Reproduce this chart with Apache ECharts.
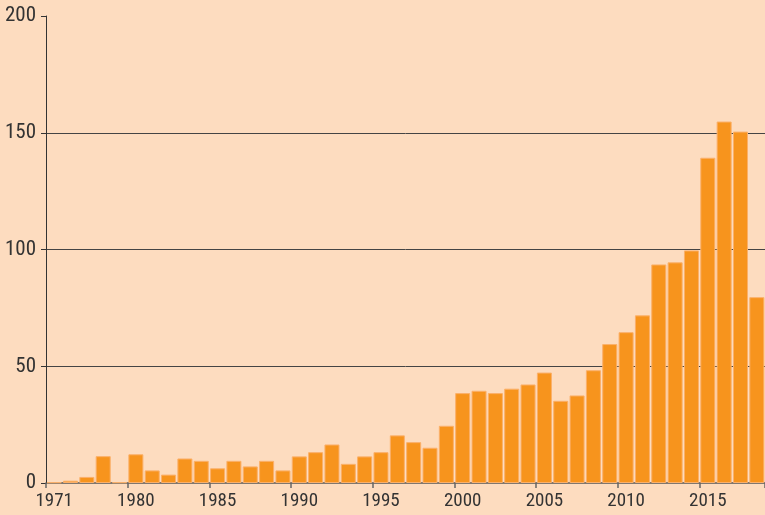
<!DOCTYPE html>
<html>
<head>
<meta charset="utf-8">
<script src="https://cdn.jsdelivr.net/npm/echarts@6/dist/echarts.min.js"></script>
<style>
  html, body { margin: 0; padding: 0; background: #FDDCBF; }
  #chart { width: 765px; height: 515px; }
</style>
</head>
<body>
<div id="chart"></div>
<script>
// first bar is labelled 1971, then one bar per year 1976-2018
var years = ['1971', '1976', '1977', '1978', '1979', '1980', '1981', '1982', '1983', '1984',
  '1985', '1986', '1987', '1988', '1989', '1990', '1991', '1992', '1993', '1994',
  '1995', '1996', '1997', '1998', '1999', '2000', '2001', '2002', '2003', '2004',
  '2005', '2006', '2007', '2008', '2009', '2010', '2011', '2012', '2013', '2014',
  '2015', '2016', '2017', '2018'];
var values = [0.3, 1, 2.6, 11.5, 0.3, 12.3, 5.4, 3.6, 10.5, 9.5,
  6.3, 9.5, 7.1, 9.5, 5.4, 11.4, 13.2, 16.5, 8.2, 11.4,
  13.2, 20.4, 17.5, 15.1, 24.5, 38.5, 39.5, 38.5, 40.4, 42.2,
  47.3, 35.2, 37.5, 48.3, 59.5, 64.6, 71.8, 93.6, 94.5, 99.6,
  139.3, 154.8, 150.5, 79.6];
var tickYears = ['1971', '1980', '1985', '1990', '1995', '2000', '2005', '2010', '2015'];

var labelFont = '"Roboto Condensed", "DejaVu Sans Condensed", sans-serif';

var chart = echarts.init(document.getElementById('chart'));

function showTick(idx) {
  return tickYears.indexOf(years[idx]) >= 0;
}

var option = {
  backgroundColor: '#FDDCBF',
  animation: false,
  grid: { left: 46, right: -5, top: 16, bottom: 32 },
  xAxis: {
    type: 'category',
    data: years,
    boundaryGap: true,
    axisLine: { lineStyle: { color: '#555', width: 1.5 } },
    axisTick: { show: true, interval: showTick, length: 5, lineStyle: { color: '#666', width: 1.5 } },
    axisLabel: {
      interval: showTick,
      color: '#333',
      fontFamily: labelFont,
      fontSize: 19,
      margin: 9
    },
    splitLine: { show: false }
  },
  yAxis: {
    type: 'value',
    min: 0,
    max: 200,
    interval: 50,
    axisLine: { show: true, lineStyle: { color: '#333', width: 1 } },
    axisTick: { show: true, length: 5, lineStyle: { color: '#333' } },
    axisLabel: {
      color: '#333',
      fontFamily: labelFont,
      fontSize: 21,
      margin: 10,
      padding: [0, 0, 6, 0]
    },
    splitLine: { show: true, showMinLine: false, showMaxLine: false, lineStyle: { color: '#444', width: 1 } }
  },
  series: [{
    type: 'bar',
    data: values,
    barCategoryGap: '8%',
    itemStyle: { color: '#F7941D', borderColor: '#FBB06A', borderWidth: 1 }
  }]
};

chart.setOption(option);
</script>
</body>
</html>
